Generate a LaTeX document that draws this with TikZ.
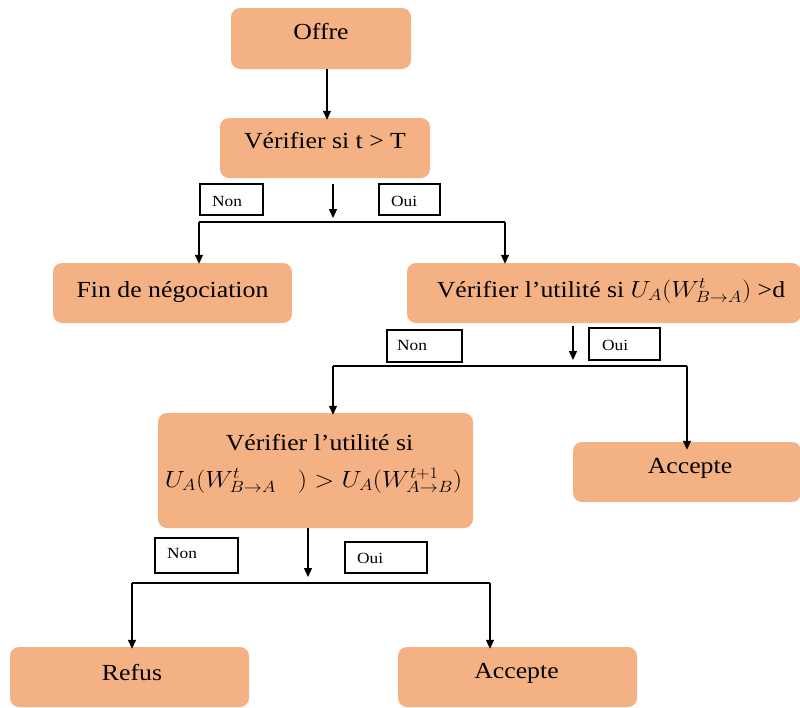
\documentclass[tikz,border=0pt]{standalone}
\usepackage{fontspec}
\usepackage{graphicx}
\setmainfont{Liberation Serif}
\usetikzlibrary{arrows.meta}
\definecolor{boxfill}{HTML}{F4B183}
% slightly widened lettering
\newcommand{\widen}[1]{\scalebox{1.12}[1]{#1}}
% formulas a touch smaller than the text around them
\newcommand{\formula}[1]{\scalebox{0.94}{$#1$}}
\tikzset{
  obox/.style={fill=boxfill, draw=none, rounded corners=9pt, inner sep=0pt},
  btext/.style={inner sep=0pt, anchor=base, font=\fontsize{23}{27}\selectfont},
  tagbox/.style={draw=black, line width=1.3pt, fill=white, inner sep=0pt},
  tagtext/.style={inner sep=0pt, anchor=base west, font=\fontsize{15.5}{18}\selectfont},
  link/.style={line width=1.3pt, draw=black},
  arr/.style={link, -{Triangle[length=9pt,width=8pt]}}
}
\begin{document}
\begin{tikzpicture}[x=1pt,y=-1pt]
\useasboundingbox (0,0) rectangle (800,707);

% process boxes
\node[obox, minimum width=180pt, minimum height=61pt] (offre) at (321,38.5) {};
\node[obox, minimum width=210pt, minimum height=60pt] (verif) at (325,148) {};
\node[obox, minimum width=239pt, minimum height=60pt] (fin) at (172.5,293) {};
\node[obox, minimum width=394pt, minimum height=60pt] (util) at (604,293) {};
\node[obox, minimum width=315pt, minimum height=115pt] (cmp) at (315.5,470.5) {};
\node[obox, minimum width=228pt, minimum height=60pt] (acca) at (687,472) {};
\node[obox, minimum width=239pt, minimum height=60pt] (refus) at (129.5,677) {};
\node[obox, minimum width=239pt, minimum height=60pt] (accb) at (517.5,677) {};

% box texts
\node[btext] (toffre) at (321,39) {\widen{Offre}};
\node[btext] (tverif) at (325,148) {\widen{Vérifier si t > T}};
\node[btext] (tfin) at (172.5,297) {\widen{Fin de négociation}};
\node[btext] (tutil) at (611,297) {\widen{Vérifier l’utilité si \formula{U_A(W^t_{B\to A})} >d}};
\node[btext] (tcmpa) at (319.5,450) {\widen{Vérifier l’utilité si}};
\node[btext] (tcmpb) at (313.5,487) {\widen{\formula{U_A(W^t_{B\to A}\;\;\;) > U_A(W^{t+1}_{A\to B})}}};
\node[btext] (tacca) at (690,473) {\widen{Accepte}};
\node[btext] (trefus) at (132,680) {\widen{Refus}};
\node[btext] (taccb) at (516.5,678) {\widen{Accepte}};

% Non / Oui tags
\node[tagbox, minimum width=63pt, minimum height=31pt] (n1) at (231.5,199.5) {};
\node[tagbox, minimum width=61pt, minimum height=31pt] (o1) at (409.5,199.5) {};
\node[tagbox, minimum width=75pt, minimum height=32pt] (n2) at (424.5,346) {};
\node[tagbox, minimum width=71pt, minimum height=32pt] (o2) at (624.5,344) {};
\node[tagbox, minimum width=83pt, minimum height=35pt] (n3) at (196.5,555.5) {};
\node[tagbox, minimum width=82pt, minimum height=31pt] (o3) at (386,557.5) {};
\node[tagtext] (tn1) at (212,206) {\widen{Non}};
\node[tagtext] (to1) at (391,206) {\widen{Oui}};
\node[tagtext] (tn2) at (397,350) {\widen{Non}};
\node[tagtext] (to2) at (602,350) {\widen{Oui}};
\node[tagtext] (tn3) at (167,558) {\widen{Non}};
\node[tagtext] (to3) at (357,563) {\widen{Oui}};

% branching points
\coordinate (s1) at (333,184);  \coordinate (e1) at (333,218);
\coordinate (l1) at (199,222);  \coordinate (r1) at (505,222);
\coordinate (s2) at (573,326);  \coordinate (e2) at (573,360);
\coordinate (l2) at (333,366);  \coordinate (r2) at (687,366);
\coordinate (s3) at (308,528);  \coordinate (e3) at (308,577);
\coordinate (l3) at (132,583);  \coordinate (r3) at (490,583);

% connectors
\draw[arr] (offre.south -| 327,0) -- ([yshift=-2pt]verif.north -| 327,0);

\draw[arr] (s1) -- (e1);
\draw[link] (l1) -- (r1);
\draw[arr] (l1) -- ([yshift=-1pt]l1 |- fin.north);
\draw[arr] (r1) -- ([yshift=-1pt]r1 |- util.north);

\draw[arr] (s2) -- (e2);
\draw[link] (l2) -- (r2);
\draw[arr] (l2) -- ([yshift=-2pt]l2 |- cmp.north);
\draw[arr] (r2) -- ([yshift=-8pt]r2 |- acca.north);

\draw[arr] (s3) -- (e3);
\draw[link] (l3) -- (r3);
\draw[arr] (l3) -- ([yshift=-2pt]l3 |- refus.north);
\draw[arr] (r3) -- ([yshift=-2pt]r3 |- accb.north);
\end{tikzpicture}
\end{document}
